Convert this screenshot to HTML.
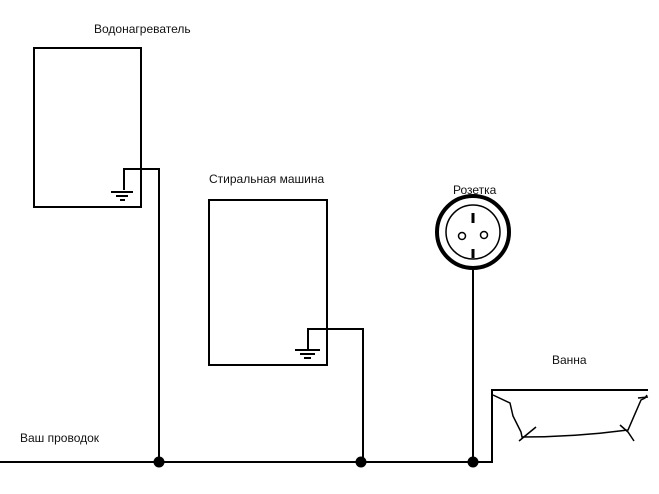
<!DOCTYPE html>
<html><head><meta charset="utf-8"><style>
html,body{margin:0;padding:0;background:#fff;}
svg{display:block;}
text{font-family:"Liberation Sans",sans-serif;font-size:12px;fill:#111;}
</style></head><body>
<svg width="659" height="494" viewBox="0 0 659 494" xmlns="http://www.w3.org/2000/svg">
<g fill="none" stroke="#000" stroke-width="2">
<rect x="34" y="48" width="107" height="159"/>
<rect x="209" y="200" width="118" height="165"/>
<polyline points="124,190 124,169 159,169 159,462"/>
<polyline points="308,350 308,329 363,329 363,462"/>
<line x1="111" y1="192" x2="133" y2="192"/>
<line x1="116" y1="196" x2="128" y2="196"/>
<line x1="120" y1="200" x2="125" y2="200"/>
<line x1="295" y1="350" x2="320" y2="350"/>
<line x1="300" y1="354" x2="315" y2="354"/>
<line x1="304" y1="358" x2="311" y2="358"/>
<line x1="473" y1="269" x2="473" y2="462"/>
<polyline points="0,462 492,462 492,390 648,390"/>
<circle cx="473" cy="232" r="36" stroke-width="4"/>
<circle cx="473" cy="232" r="27" stroke-width="1.5"/>
<line x1="473" y1="213" x2="473" y2="223" stroke-width="3"/>
<line x1="473" y1="249" x2="473" y2="258" stroke-width="3"/>
<circle cx="462" cy="236" r="3.5" stroke-width="1.5"/>
<circle cx="484" cy="235" r="3.5" stroke-width="1.5"/>
<path stroke-width="1.5" d="M493,395 L510,403 L513,416 L521,432 L522,437 Q575,437 628,430 L641,400 L645,398 L647,395"/>
<line stroke-width="1.5" x1="519" y1="441" x2="536" y2="427"/>
<polyline stroke-width="1.5" points="620,425 628,432 634,441"/>
<line stroke-width="1.5" x1="638" y1="398" x2="648" y2="397"/>
</g>
<g fill="#000">
<circle cx="159" cy="462" r="5.5"/>
<circle cx="361" cy="462" r="5.5"/>
<circle cx="473" cy="462" r="5.5"/>
</g>
<text x="94" y="33">Водонагреватель</text>
<text x="209" y="183">Стиральная машина</text>
<text x="453" y="194">Розетка</text>
<text x="552" y="364">Ванна</text>
<text x="20" y="442">Ваш проводок</text>
</svg>
</body></html>
